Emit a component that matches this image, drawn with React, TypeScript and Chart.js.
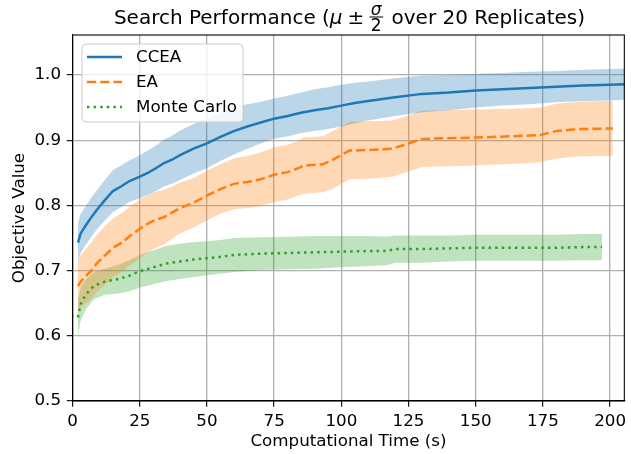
import React, { useEffect, useRef } from "react";
import { Chart, registerables } from "chart.js";

Chart.register(...registerables);

const FONT = '"DejaVu Sans", sans-serif';

// CCEA
const ccTime = [2, 3, 5, 7, 9, 12, 15, 18, 21, 25, 28, 31, 34, 37, 40, 45, 50, 55, 60, 65, 70, 75, 80, 85, 90, 95, 100, 105, 110, 120, 130, 140, 150, 160, 170, 180, 190, 200, 206];
const ccMean = [0.743, 0.757, 0.770, 0.782, 0.793, 0.808, 0.822, 0.829, 0.837, 0.844, 0.850, 0.857, 0.865, 0.870, 0.877, 0.887, 0.895, 0.905, 0.914, 0.921, 0.927, 0.933, 0.937, 0.942, 0.946, 0.949, 0.953, 0.957, 0.960, 0.966, 0.971, 0.973, 0.976, 0.978, 0.980, 0.982, 0.984, 0.985, 0.986];
const ccHalf = [0.030, 0.030, 0.030, 0.030, 0.030, 0.031, 0.032, 0.032, 0.032, 0.033, 0.034, 0.035, 0.036, 0.037, 0.038, 0.038, 0.038, 0.037, 0.036, 0.034, 0.032, 0.031, 0.031, 0.031, 0.032, 0.032, 0.032, 0.031, 0.030, 0.029, 0.028, 0.027, 0.026, 0.025, 0.025, 0.024, 0.024, 0.024, 0.024];

// EA
const eaTime = [2, 3, 5, 7, 9, 12, 15, 18, 21, 25, 28, 31, 34, 37, 40, 45, 50, 55, 60, 65, 70, 75, 80, 84, 86, 93, 96, 103, 110, 119, 125, 130, 150, 170, 174, 180, 188, 201];
const eaMean = [0.676, 0.683, 0.692, 0.700, 0.711, 0.723, 0.735, 0.742, 0.752, 0.764, 0.772, 0.778, 0.782, 0.789, 0.796, 0.804, 0.815, 0.825, 0.833, 0.836, 0.840, 0.847, 0.851, 0.857, 0.861, 0.863, 0.868, 0.884, 0.885, 0.887, 0.895, 0.902, 0.904, 0.907, 0.908, 0.914, 0.917, 0.918];
const eaHalf = [0.038, 0.040, 0.042, 0.043, 0.044, 0.045, 0.045, 0.045, 0.045, 0.045, 0.044, 0.043, 0.042, 0.040, 0.039, 0.038, 0.038, 0.038, 0.039, 0.040, 0.041, 0.042, 0.042, 0.042, 0.043, 0.043, 0.044, 0.044, 0.044, 0.043, 0.043, 0.043, 0.043, 0.042, 0.042, 0.042, 0.042, 0.042];

// Monte Carlo
const mcTime = [2, 3, 5, 8, 12, 17, 21, 25, 30, 35, 40, 45, 50, 55, 60, 70, 80, 90, 100, 110, 117, 120, 130, 140, 150, 160, 170, 180, 190, 197];
const mcMean = [0.628, 0.649, 0.664, 0.677, 0.683, 0.687, 0.692, 0.699, 0.705, 0.711, 0.714, 0.717, 0.719, 0.721, 0.724, 0.726, 0.727, 0.728, 0.729, 0.730, 0.730, 0.733, 0.733, 0.734, 0.735, 0.735, 0.735, 0.735, 0.736, 0.736];
const mcHalf = [0.028, 0.026, 0.023, 0.021, 0.020, 0.022, 0.024, 0.025, 0.026, 0.027, 0.027, 0.027, 0.026, 0.026, 0.026, 0.025, 0.025, 0.025, 0.024, 0.023, 0.022, 0.021, 0.021, 0.020, 0.020, 0.020, 0.020, 0.020, 0.020, 0.020];

const seriesNames = ["CCEA", "EA", "Monte Carlo"];
const xTicksStep = 25;
const yTicksStep = 0.1;

const pts = (t: number[], v: number[]) => t.map((x, i) => ({ x, y: v[i] }));
const off = (v: number[], h: number[], s: number) => v.map((y, i) => y + s * h[i]);

const COLORS = ["#1f77b4", "#ff7f0e", "#2ca02c"];
const BANDS = ["rgba(31,119,180,0.3)", "rgba(255,127,14,0.3)", "rgba(44,160,44,0.3)"];
const DASHES: number[][] = [[], [9.25, 4], [2.5, 4.1]];

const framePlugin = {
  id: "frame",
  afterDraw(chart: any) {
    const { ctx, chartArea: a } = chart;
    ctx.save();
    ctx.strokeStyle = "#000";
    ctx.lineWidth = 1.1;
    ctx.strokeRect(a.left, a.top, a.right - a.left, a.bottom - a.top);
    ctx.restore();
  },
};

const legendPlugin = {
  id: "mplLegend",
  afterDraw(chart: any) {
    const { ctx } = chart;
    ctx.save();
    const x = 82, y = 44, w = 161, h = 78, r = 4;
    ctx.beginPath();
    ctx.moveTo(x + r, y);
    ctx.lineTo(x + w - r, y);
    ctx.arcTo(x + w, y, x + w, y + r, r);
    ctx.lineTo(x + w, y + h - r);
    ctx.arcTo(x + w, y + h, x + w - r, y + h, r);
    ctx.lineTo(x + r, y + h);
    ctx.arcTo(x, y + h, x, y + h - r, r);
    ctx.lineTo(x, y + r);
    ctx.arcTo(x, y, x + r, y, r);
    ctx.closePath();
    ctx.fillStyle = "rgba(255,255,255,0.8)";
    ctx.fill();
    ctx.strokeStyle = "#cccccc";
    ctx.lineWidth = 1;
    ctx.stroke();
    const rows = [57, 82, 107];
    seriesNames.forEach((name, i) => {
      ctx.beginPath();
      ctx.setLineDash(DASHES[i]);
      ctx.lineCap = "butt";
      ctx.strokeStyle = COLORS[i];
      ctx.lineWidth = 2.5;
      ctx.moveTo(87, rows[i]);
      ctx.lineTo(122, rows[i]);
      ctx.stroke();
      ctx.setLineDash([]);
      ctx.fillStyle = "#000";
      ctx.font = `16.7px ${FONT}`;
      ctx.textBaseline = "middle";
      ctx.textAlign = "left";
      ctx.fillText(name, 136, rows[i] + 1);
    });
    ctx.restore();
  },
};

const titlePlugin = {
  id: "mplTitle",
  afterDraw(chart: any) {
    const { ctx, chartArea: a } = chart;
    ctx.save();
    const main = `20px ${FONT}`;
    const ital = `oblique 20px ${FONT}`;
    const small = `17px ${FONT}`;
    const smallIt = `oblique 17px ${FONT}`;
    const p1 = "Search Performance (";
    const p2 = " over 20 Replicates)";
    ctx.font = main;
    const w1 = ctx.measureText(p1).width;
    const w2 = ctx.measureText(p2).width;
    const wpm = ctx.measureText("±").width;
    ctx.font = ital;
    const wmu = ctx.measureText("μ").width;
    ctx.font = smallIt;
    const wsig = ctx.measureText("σ").width;
    ctx.font = small;
    const wtwo = ctx.measureText("2").width;
    const gap = 5;
    const wfrac = Math.max(wsig, wtwo) + 3;
    const total = w1 + wmu + gap + wpm + gap + wfrac + 2 + w2;
    const cx = (a.left + a.right) / 2 + 1;
    let x = cx - total / 2;
    const base = 24;
    ctx.fillStyle = "#000";
    ctx.textBaseline = "alphabetic";
    ctx.textAlign = "left";
    ctx.font = main;
    ctx.fillText(p1, x, base);
    x += w1;
    ctx.font = ital;
    ctx.fillText("μ", x, base);
    x += wmu + gap;
    ctx.font = main;
    ctx.fillText("±", x, base);
    x += wpm + gap;
    const bar = base - 7;
    ctx.fillRect(x, bar - 0.5, wfrac, 1);
    ctx.textAlign = "center";
    ctx.font = smallIt;
    ctx.fillText("σ", x + wfrac / 2, bar - 2.5);
    ctx.font = small;
    ctx.fillText("2", x + wfrac / 2, bar + 13.5);
    x += wfrac + 2;
    ctx.textAlign = "left";
    ctx.font = main;
    ctx.fillText(p2, x, base);
    ctx.restore();
  },
};

export default function App() {
  const ref = useRef<HTMLCanvasElement | null>(null);
  useEffect(() => {
    if (!ref.current) return;
    const times = [ccTime, eaTime, mcTime];
    const means = [ccMean, eaMean, mcMean];
    const halves = [ccHalf, eaHalf, mcHalf];
    const datasets: any[] = [];
    seriesNames.forEach((name, i) => {
      datasets.push({
        label: name,
        data: pts(times[i], means[i]),
        borderColor: COLORS[i],
        borderWidth: 2.5,
        borderDash: DASHES[i],
        borderCapStyle: "butt",
        pointRadius: 0,
        fill: false,
        tension: 0,
        order: 0,
      });
    });
    seriesNames.forEach((name, i) => {
      datasets.push({
        label: name + " upper",
        data: pts(times[i], off(means[i], halves[i], 1)),
        borderWidth: 0,
        borderColor: "rgba(0,0,0,0)",
        pointRadius: 0,
        fill: false,
        order: 5,
      });
      datasets.push({
        label: name + " lower",
        data: pts(times[i], off(means[i], halves[i], -1)),
        borderWidth: 0,
        borderColor: "rgba(0,0,0,0)",
        backgroundColor: BANDS[i],
        pointRadius: 0,
        fill: "-1",
        order: 5,
      });
    });
    const tickFont = { family: FONT, size: 16.7 };
    const chart = new Chart(ref.current, {
      type: "line",
      data: { datasets },
      plugins: [framePlugin, legendPlugin, titlePlugin],
      options: {
        animation: false,
        responsive: false,
        devicePixelRatio: 1,
        layout: { padding: { top: 35, left: 0, right: 0, bottom: 0 } },
        plugins: {
          legend: { display: false },
          tooltip: { enabled: false },
          title: { display: false },
          filler: { propagate: false, drawTime: "beforeDatasetsDraw" },
        } as any,
        scales: {
          x: {
            type: "linear",
            min: 0,
            max: 205.3,
            afterFit: (s: any) => { s.height = 53; },
            ticks: {
              stepSize: xTicksStep,
              includeBounds: false,
              color: "#000",
              font: tickFont,
              padding: 5,
              maxRotation: 0,
              autoSkip: false,
              callback: (v: any) => String(v),
            },
            grid: { color: "#b0b0b0", lineWidth: 1.33, tickColor: "#000", tickLength: 5.8, tickWidth: 1.1 },
            border: { display: true, color: "#000", width: 1.1 },
            title: {
              display: true,
              text: "Computational Time (s)",
              color: "#000",
              font: tickFont,
              padding: { top: 0, bottom: 2.5 },
            },
          },
          y: {
            type: "linear",
            min: 0.5,
            max: 1.0613,
            afterFit: (s: any) => { s.width = 72.6; },
            ticks: {
              stepSize: yTicksStep,
              includeBounds: false,
              color: "#000",
              font: tickFont,
              padding: 5.8,
              callback: (v: any) => Number(v).toFixed(1),
            },
            grid: { color: "#b0b0b0", lineWidth: 1.33, tickColor: "#000", tickLength: 5.8, tickWidth: 1.1 },
            border: { display: true, color: "#000", width: 1.1 },
            title: {
              display: true,
              text: "Objective Value",
              color: "#000",
              font: tickFont,
              padding: { top: 9.5, bottom: 0 },
            },
          },
        } as any,
      },
    });
    return () => chart.destroy();
  }, []);
  return (
    <div style={{ position: "absolute", left: 0, top: 0, width: 631, height: 454 }}>
      <canvas ref={ref} width={631} height={454} style={{ display: "block" }} />
    </div>
  );
}
